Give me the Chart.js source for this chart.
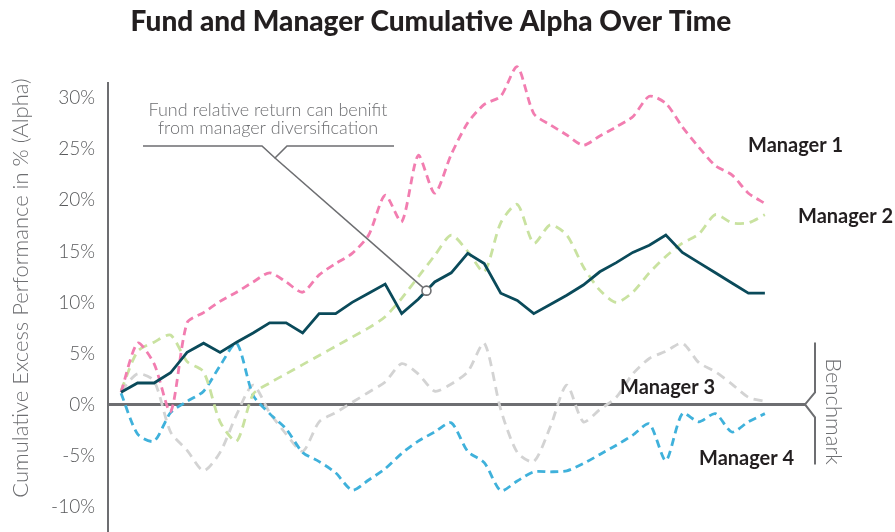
<!DOCTYPE html>
<html>
<head>
<meta charset="utf-8">
<script src="https://cdn.jsdelivr.net/npm/chart.js@4/dist/chart.umd.min.js"></script>
<style>
  html, body { margin: 0; padding: 0; background: #ffffff; }
  #wrap { width: 895px; height: 532px; }
</style>
</head>
<body>
<div id="wrap"><canvas id="c" width="895" height="532"></canvas></div>
<script>
// ---- data (cumulative alpha, %) ----
const periods = [0,1,2,3,4,5,6,7,8,9,10,11,12,13,14,15,16,17,18,19,20,21,22,23,24,25,26,27,28,29,30,31,32,33,34,35,36,37,38,39];
const fund     = [1.2,2.1,2.1,3.1,5.1,6.0,5.1,6.1,7.0,8.0,8.0,7.0,8.9,8.9,10.0,10.9,11.8,8.9,10.3,12.0,12.9,14.8,13.8,10.9,10.2,8.9,9.8,10.7,11.7,13.0,13.9,14.9,15.6,16.6,14.9,13.9,12.9,11.9,10.9,10.9];
const manager1 = [1.2,6.0,4.0,-0.7,8.0,9.0,10.1,11.0,12.0,12.9,12.0,11.0,12.7,13.8,14.8,16.6,20.5,17.9,24.4,20.7,24.5,27.6,29.4,30.2,33.1,28.5,27.4,26.4,25.4,26.3,27.2,28.2,30.2,29.5,27.2,25.2,23.4,22.5,20.7,19.7];
const manager2 = [1.35,5.2,6.1,6.8,4.2,3.2,-1.7,-3.6,1.0,2.1,3.0,3.9,4.8,5.7,6.6,7.5,8.6,10.4,12.5,14.6,16.6,15.0,13.0,17.8,19.6,15.8,17.6,16.6,13.5,11.2,10.0,11.0,12.9,14.5,15.8,16.7,18.6,17.8,17.8,18.6];
const manager3 = [1.3,3.0,2.3,-2.7,-4.5,-6.5,-4.7,-1.0,1.9,-0.8,-2.9,-4.6,-1.7,-0.8,0.2,1.2,2.2,4.0,3.0,1.3,2.0,3.2,6.0,-0.5,-4.7,-5.6,-2.2,1.9,-1.7,-0.5,0.7,3.0,4.5,5.2,6.0,4.1,3.2,2.0,0.7,0.3];
const manager4 = [1.1,-2.9,-3.6,-0.8,0.3,1.3,3.8,6.0,0.9,-0.9,-2.4,-4.7,-5.6,-6.7,-8.4,-7.4,-6.3,-4.8,-3.6,-2.7,-1.8,-4.6,-5.7,-8.45,-7.5,-6.6,-6.6,-6.5,-5.8,-4.9,-4.0,-3.0,-1.9,-5.5,-0.9,-1.7,-0.9,-2.7,-1.7,-0.9];
const seriesNames = ['Fund','Manager 1','Manager 2','Manager 3','Manager 4'];
const yTickValues = [-10,-5,0,5,10,15,20,25,30];
const titleText = 'Fund and Manager Cumulative Alpha Over Time';
const yTitleText = 'Cumulative Excess Performance in % (Alpha)';
const noteLines = ['Fund relative return can benifit', 'from manager diversification'];
const notePeriod = 18.5;   // where the callout touches the fund line
const benchmarkText = 'Benchmark';

const toXY = arr => periods.map((p, i) => ({ x: p, y: arr[i] }));

const COL = {
  fund: '#0a4a5a', m1: '#f27db0', m2: '#c9e2a0', m3: '#d3d3d3', m4: '#3fb1db',
  axis: '#6d6e71', text: '#231f20', grey: '#6d6e71'
};

function interpFund(p) {
  const i = Math.floor(p), f = p - i;
  return fund[i] + (fund[Math.min(i + 1, fund.length - 1)] - fund[i]) * f;
}

const decor = {
  id: 'decor',
  afterDraw(chart) {
    const ctx = chart.ctx;
    const xs = chart.scales.x, ys = chart.scales.y;
    const area = chart.chartArea;
    ctx.save();
    // Title
    ctx.fillStyle = COL.text;
    ctx.font = '900 28px Lato';
    ctx.textAlign = 'center';
    ctx.textBaseline = 'middle';
    ctx.fillText(titleText, 431, 22);

    // Y title
    ctx.save();
    ctx.translate(21, 288);
    ctx.rotate(-Math.PI / 2);
    ctx.fillStyle = COL.grey;
    ctx.font = '300 22px Lato';
    ctx.textAlign = 'center';
    ctx.textBaseline = 'middle';
    ctx.fillText(yTitleText, 0, 0);
    ctx.restore();

    // Callout note
    ctx.fillStyle = COL.grey;
    ctx.font = '300 18px Lato';
    ctx.textAlign = 'center';
    ctx.textBaseline = 'alphabetic';
    ctx.fillText(noteLines[0], 268, 116);
    ctx.fillText(noteLines[1], 268, 134);

    const cx = xs.getPixelForValue(notePeriod);
    const cy = ys.getPixelForValue(interpFund(notePeriod));
    ctx.strokeStyle = COL.grey;
    ctx.lineWidth = 1.6;
    ctx.beginPath();
    ctx.moveTo(143, 146); ctx.lineTo(262, 146); ctx.lineTo(275, 158);
    ctx.lineTo(287, 146); ctx.lineTo(394, 146);
    ctx.stroke();
    const ang = Math.atan2(cy - 158, cx - 275);
    const r = 4.5;
    ctx.beginPath();
    ctx.moveTo(275, 158);
    ctx.lineTo(cx - Math.cos(ang) * r, cy - Math.sin(ang) * r);
    ctx.stroke();
    ctx.beginPath();
    ctx.arc(cx, cy, r, 0, Math.PI * 2);
    ctx.fillStyle = '#ffffff';
    ctx.fill();
    ctx.lineWidth = 1.6;
    ctx.stroke();

    // Series labels
    ctx.fillStyle = COL.text;
    ctx.font = 'bold 20px Lato';
    ctx.textAlign = 'left';
    ctx.textBaseline = 'middle';
    ctx.fillText(seriesNames[1], 748, 146);
    ctx.fillText(seriesNames[2], 798, 217);
    ctx.fillText(seriesNames[3], 620, 388);
    ctx.fillText(seriesNames[4], 699, 459);

    // Benchmark bracket
    const z = ys.getPixelForValue(0);
    const bx = area.right + 10;
    ctx.strokeStyle = COL.axis;
    ctx.lineWidth = 2;
    ctx.beginPath();
    ctx.moveTo(bx, z - 62); ctx.lineTo(bx, z - 12); ctx.lineTo(area.right, z);
    ctx.lineTo(bx, z + 13); ctx.lineTo(bx, z + 60);
    ctx.stroke();
    ctx.save();
    ctx.translate(833, z + 7);
    ctx.rotate(Math.PI / 2);
    ctx.fillStyle = COL.grey;
    ctx.font = '300 22px Lato';
    ctx.textAlign = 'center';
    ctx.textBaseline = 'middle';
    ctx.fillText(benchmarkText, 0, 0);
    ctx.restore();
    ctx.restore();
  }
};

const dashed = (label, data, color, dash, order) => ({
  label, data: toXY(data), borderColor: color, borderWidth: 2.8,
  borderDash: dash, pointRadius: 0, tension: 0.25, fill: false, order, clip: false
});

new Chart(document.getElementById('c'), {
  type: 'line',
  data: {
    datasets: [
      { label: seriesNames[0], data: toXY(fund), borderColor: COL.fund, borderWidth: 2.8,
        pointRadius: 0, tension: 0, fill: false, order: 0, clip: false },
      dashed(seriesNames[1], manager1, COL.m1, [8, 5], 1),
      dashed(seriesNames[2], manager2, COL.m2, [9, 6], 2),
      dashed(seriesNames[3], manager3, COL.m3, [9, 6], 4),
      dashed(seriesNames[4], manager4, COL.m4, [8, 5], 3)
    ]
  },
  options: {
    responsive: false,
    animation: false,
    layout: { padding: { top: 83, right: 90, bottom: 0, left: 0 } },
    plugins: { legend: { display: false }, tooltip: { enabled: false }, title: { display: false } },
    scales: {
      x: { type: 'linear', min: -0.79, max: 41.43, display: false },
      y: {
        min: -12.5, max: 31.5,
        afterFit(scale) { scale.width = 108; scale.paddingTop = 0; scale.paddingBottom = 0; },
        afterBuildTicks(scale) { scale.ticks = yTickValues.map(v => ({ value: v })); },
        border: { display: true, color: COL.axis, width: 2 },
        grid: {
          drawTicks: false,
          color: ctx => (ctx.tick && ctx.tick.value === 0) ? COL.axis : 'rgba(0,0,0,0)',
          lineWidth: ctx => (ctx.tick && ctx.tick.value === 0) ? 3 : 0
        },
        ticks: {
          padding: 13,
          color: '#58595b',
          font: { family: 'Lato', size: 19, weight: '300' },
          callback: v => v + '%'
        }
      }
    }
  },
  plugins: [decor]
});
</script>
</body>
</html>
